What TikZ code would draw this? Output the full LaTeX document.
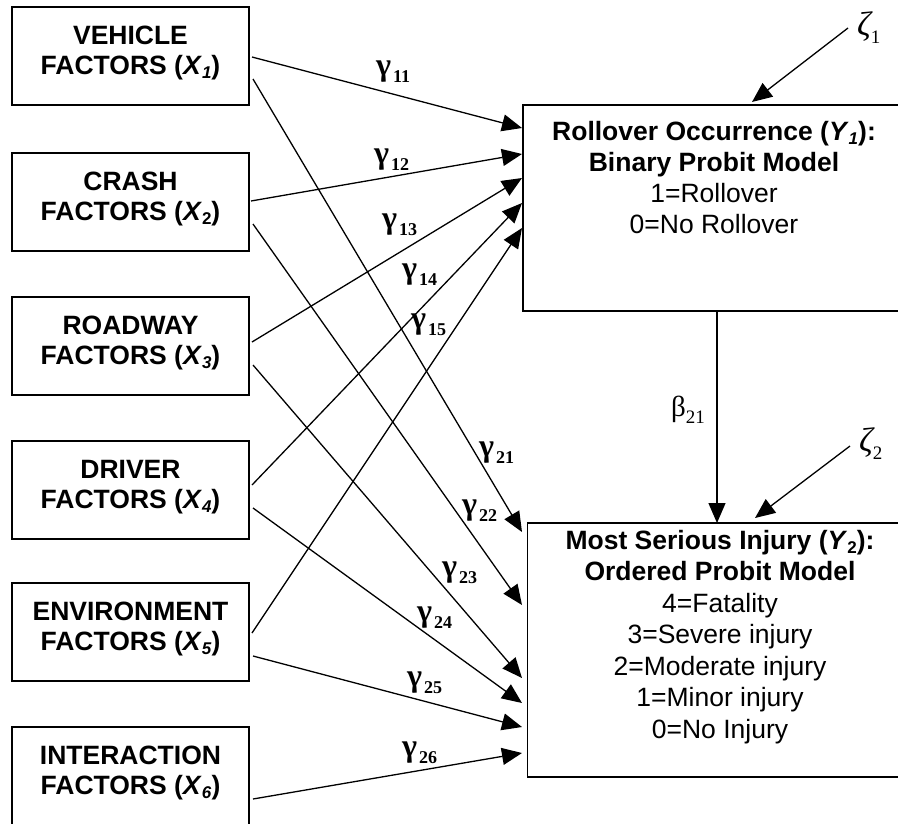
\documentclass[tikz,border=0pt]{standalone}
\usepackage{fontspec}
\setmainfont{Liberation Sans}
\newfontfamily\serifgr{Liberation Serif}
\usetikzlibrary{arrows.meta,calc}
\newcommand\mygam[1]{{\serifgr\bfseries\fontsize{32}{32}\selectfont γ}\hspace{2pt}\raisebox{-7pt}{\serifgr\bfseries\fontsize{18}{18}\selectfont #1}}
\newcommand\myxs[1]{\raisebox{-4pt}{\fontsize{17}{17}\selectfont #1}}
\begin{document}
\begin{tikzpicture}[x=1pt,y=-1pt,
  box/.style={draw,line width=1.8pt,inner sep=0pt,outer sep=0pt,anchor=north west},
  lbox/.style={box,minimum width=237pt,minimum height=98pt},
  ltext/.style={anchor=north,inner sep=0pt,align=center,font=\fontsize{26.5}{30}\selectfont\bfseries},
  rtext/.style={anchor=north,inner sep=0pt,align=center},
  con/.style={line width=1.3pt,-{Triangle[length=20pt,width=17pt]}},
  lab/.style={anchor=base west,inner sep=0pt}]
\useasboundingbox (0,0) rectangle (898,823);
% left boxes
\node[lbox] (x1) at (12,7) {};
\node[lbox] (x2) at (12,153) {};
\node[lbox] (x3) at (12,297) {};
\node[lbox] (x4) at (12,441) {};
\node[lbox] (x5) at (12,583) {};
\node[lbox] (x6) at (12,727) {};
\node[ltext] (x1t) at ($(x1.north)+(0,16.5)$) {\strut VEHICLE\\FACTORS (\textit{X}\myxs{\textit{1}})};
\node[ltext] (x2t) at ($(x2.north)+(0,16.5)$) {\strut CRASH\\FACTORS (\textit{X}\myxs{2})};
\node[ltext] (x3t) at ($(x3.north)+(0,16.5)$) {\strut ROADWAY\\FACTORS (\textit{X}\myxs{\textit{3}})};
\node[ltext] (x4t) at ($(x4.north)+(0,16.5)$) {\strut DRIVER\\FACTORS (\textit{X}\myxs{\textit{4}})};
\node[ltext] (x5t) at ($(x5.north)+(0,16.5)$) {\strut ENVIRONMENT\\FACTORS (\textit{X}\myxs{\textit{5}})};
\node[ltext] (x6t) at ($(x6.north)+(0,16.5)$) {\strut INTERACTION\\FACTORS (\textit{X}\myxs{\textit{6}})};
% right boxes
\node[box,minimum width=382pt,minimum height=206pt] (y1) at (523,105) {};
\node[box,minimum width=385pt,minimum height=254pt] (y2) at (527.5,523) {};
\node[rtext,font=\fontsize{26.5}{31}\selectfont] (y1t) at (714,118.3)
  {\strut\textbf{Rollover Occurrence (\textit{Y}\myxs{\textit{1}}):}\\\textbf{Binary Probit Model}\\1=Rollover\\0=No Rollover};
\node[rtext,font=\fontsize{26.5}{31.5}\selectfont] (y2t) at (720,527)
  {\strut\textbf{Most Serious Injury (\textit{Y}\myxs{\textbf{2}}):}\\\textbf{Ordered Probit Model}\\4=Fatality\\3=Severe injury\\2=Moderate injury\\1=Minor injury\\0=No Injury};
% connectors to Y1
\draw[con] ($(x1.north east)+(3,50)$) -- ($(y1.north west)+(-1,23)$);
\draw[con] ($(x2.north east)+(2,48)$) -- ($(y1.north west)+(-1,49)$);
\draw[con] ($(x3.north east)+(3,45)$) -- ($(y1.north west)+(-1,73)$);
\draw[con] ($(x4.north east)+(3,44)$) -- ($(y1.north west)+(-1,98)$);
\draw[con] ($(x5.north east)+(3,50)$) -- ($(y1.north west)+(-1,123)$);
% connectors to Y2
\draw[con] ($(x1.north east)+(4,72)$) -- ($(y2.north west)+(-5.5,9)$);
\draw[con] ($(x2.north east)+(4,71)$) -- ($(y2.north west)+(-5.5,82)$);
\draw[con] ($(x3.north east)+(4,68)$) -- ($(y2.north west)+(-5.5,155)$);
\draw[con] ($(x4.north east)+(4,67)$) -- ($(y2.north west)+(-5.5,180)$);
\draw[con] ($(x5.north east)+(4,73)$) -- ($(y2.north west)+(-5.5,204)$);
\draw[con] ($(x6.north east)+(4,72)$) -- ($(y2.north west)+(-5.5,230)$);
% Y1 -> Y2
\draw[con] ($(y1.south west)+(194,0)$) -- ($(y2.north west)+(189.5,0)$);
% disturbances
\coordinate (z1s) at (848,28);
\coordinate (z2s) at (850,446);
\draw[con] (z1s) -- ($(y1.north west)+(229,-3)$);
\draw[con] (z2s) -- ($(y2.north west)+(227.5,-5)$);
% labels
\node[lab] (g11) at (376,75) {\mygam{11}};
\node[lab] (g12) at (374,163) {\mygam{12}};
\node[lab] (g13) at (382,228) {\mygam{13}};
\node[lab] (g14) at (402,278) {\mygam{14}};
\node[lab] (g15) at (411,328) {\mygam{15}};
\node[lab] (g21) at (479,456) {\mygam{21}};
\node[lab] (g22) at (462,514) {\mygam{22}};
\node[lab] (g23) at (442,576) {\mygam{23}};
\node[lab] (g24) at (417,621) {\mygam{24}};
\node[lab] (g25) at (407,686) {\mygam{25}};
\node[lab] (g26) at (402,756) {\mygam{26}};
\node[lab] (b21) at (671,416) {{\serifgr\fontsize{29}{29}\selectfont β}\raisebox{-7pt}{\serifgr\fontsize{19}{19}\selectfont 21}};
\node[lab] (z1) at (857,35) {{\serifgr\itshape\fontsize{34}{34}\selectfont ζ}\raisebox{-8pt}{\serifgr\fontsize{19}{19}\selectfont 1}};
\node[lab] (z2) at (859,451.5) {{\serifgr\itshape\fontsize{34}{34}\selectfont ζ}\raisebox{-7.5pt}{\serifgr\fontsize{19}{19}\selectfont 2}};
\end{tikzpicture}
\end{document}
